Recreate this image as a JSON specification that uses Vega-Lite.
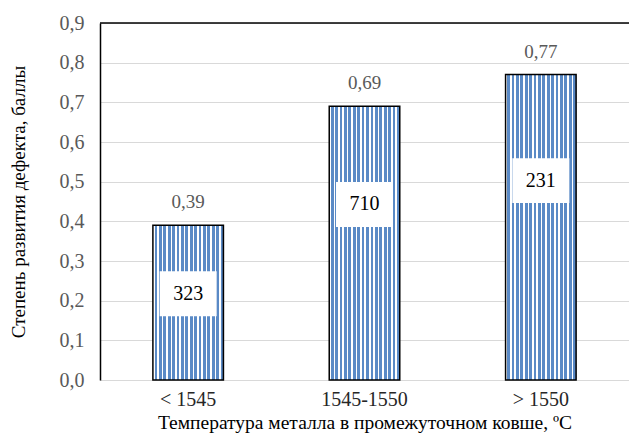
{
  "$schema": "https://vega.github.io/schema/vega-lite/v6.json",
  "width": 529,
  "height": 357,
  "autosize": {"type": "none"},
  "padding": {"left": 100, "top": 23, "right": 0, "bottom": 54},
  "background": "white",
  "config": {
    "view": {"stroke": null},
    "axisX": {
      "titleFont": "Liberation Serif",
      "titleFontSize": 19.5,
      "titleFontWeight": "normal",
      "titleColor": "black",
      "titleY": 48,
      "titleBaseline": "alphabetic",
      "labelAngle": 0,
      "labelFont": "Liberation Serif",
      "labelFontSize": 20,
      "labelColor": "#262626",
      "labelBaseline": "alphabetic",
      "labelPadding": 25,
      "ticks": false,
      "tickSize": 0,
      "domain": false
    },
    "axisY": {
      "titleFont": "Liberation Serif",
      "titleFontSize": 19,
      "titleFontWeight": "normal",
      "titleColor": "black",
      "titleAngle": -90,
      "titleX": -82,
      "titleY": 178.5,
      "titleAlign": "center",
      "titleBaseline": "middle",
      "labelFont": "Liberation Serif",
      "labelFontSize": 20,
      "labelColor": "#595959",
      "labelPadding": 16,
      "labelOverlap": false,
      "ticks": false,
      "tickSize": 0,
      "domain": true,
      "domainColor": "black",
      "domainWidth": 1.5,
      "grid": true,
      "gridColor": "#d9d9d9",
      "gridWidth": 1
    }
  },
  "data": {
    "values": [
      {"t": "< 1545", "v": 0.39, "n": 323},
      {"t": "1545-1550", "v": 0.69, "n": 710},
      {"t": "> 1550", "v": 0.77, "n": 231}
    ]
  },
  "transform": [
    {"calculate": "datum.v * 0.75 - 0.075", "as": "ny"},
    {"calculate": "replace(format(datum.v, '.2f'), '.', ',')", "as": "vl"}
  ],
  "layer": [
    {
      "mark": {
        "type": "bar",
        "stroke": "black",
        "strokeWidth": 1.5,
        "fill": {
          "gradient": "linear",
          "x1": 0, "y1": 0, "x2": 1, "y2": 0,
          "stops": [
            {"offset": 0, "color": "#ffffff"}, {"offset": 0.023, "color": "#ffffff"}, {"offset": 0.023, "color": "#5a8ac6"}, {"offset": 0.0625, "color": "#5a8ac6"},
            {"offset": 0.0625, "color": "#ffffff"}, {"offset": 0.0855, "color": "#ffffff"}, {"offset": 0.0855, "color": "#5a8ac6"}, {"offset": 0.125, "color": "#5a8ac6"},
            {"offset": 0.125, "color": "#ffffff"}, {"offset": 0.148, "color": "#ffffff"}, {"offset": 0.148, "color": "#5a8ac6"}, {"offset": 0.1875, "color": "#5a8ac6"},
            {"offset": 0.1875, "color": "#ffffff"}, {"offset": 0.2105, "color": "#ffffff"}, {"offset": 0.2105, "color": "#5a8ac6"}, {"offset": 0.25, "color": "#5a8ac6"},
            {"offset": 0.25, "color": "#ffffff"}, {"offset": 0.273, "color": "#ffffff"}, {"offset": 0.273, "color": "#5a8ac6"}, {"offset": 0.3125, "color": "#5a8ac6"},
            {"offset": 0.3125, "color": "#ffffff"}, {"offset": 0.3355, "color": "#ffffff"}, {"offset": 0.3355, "color": "#5a8ac6"}, {"offset": 0.375, "color": "#5a8ac6"},
            {"offset": 0.375, "color": "#ffffff"}, {"offset": 0.398, "color": "#ffffff"}, {"offset": 0.398, "color": "#5a8ac6"}, {"offset": 0.4375, "color": "#5a8ac6"},
            {"offset": 0.4375, "color": "#ffffff"}, {"offset": 0.4605, "color": "#ffffff"}, {"offset": 0.4605, "color": "#5a8ac6"}, {"offset": 0.5, "color": "#5a8ac6"},
            {"offset": 0.5, "color": "#ffffff"}, {"offset": 0.523, "color": "#ffffff"}, {"offset": 0.523, "color": "#5a8ac6"}, {"offset": 0.5625, "color": "#5a8ac6"},
            {"offset": 0.5625, "color": "#ffffff"}, {"offset": 0.5855, "color": "#ffffff"}, {"offset": 0.5855, "color": "#5a8ac6"}, {"offset": 0.625, "color": "#5a8ac6"},
            {"offset": 0.625, "color": "#ffffff"}, {"offset": 0.648, "color": "#ffffff"}, {"offset": 0.648, "color": "#5a8ac6"}, {"offset": 0.6875, "color": "#5a8ac6"},
            {"offset": 0.6875, "color": "#ffffff"}, {"offset": 0.7105, "color": "#ffffff"}, {"offset": 0.7105, "color": "#5a8ac6"}, {"offset": 0.75, "color": "#5a8ac6"},
            {"offset": 0.75, "color": "#ffffff"}, {"offset": 0.773, "color": "#ffffff"}, {"offset": 0.773, "color": "#5a8ac6"}, {"offset": 0.8125, "color": "#5a8ac6"},
            {"offset": 0.8125, "color": "#ffffff"}, {"offset": 0.8355, "color": "#ffffff"}, {"offset": 0.8355, "color": "#5a8ac6"}, {"offset": 0.875, "color": "#5a8ac6"},
            {"offset": 0.875, "color": "#ffffff"}, {"offset": 0.898, "color": "#ffffff"}, {"offset": 0.898, "color": "#5a8ac6"}, {"offset": 0.9375, "color": "#5a8ac6"},
            {"offset": 0.9375, "color": "#ffffff"}, {"offset": 0.9605, "color": "#ffffff"}, {"offset": 0.9605, "color": "#5a8ac6"}, {"offset": 1, "color": "#5a8ac6"}
          ]
        }
      },
      "encoding": {
        "x": {"field": "t", "type": "nominal", "sort": null, "scale": {"paddingInner": 0.6, "paddingOuter": 0.3}, "axis": {"title": "Температура металла в промежуточном ковше, ºС"}},
        "y": {"field": "v", "type": "quantitative", "scale": {"domain": [0, 0.9], "nice": false}, "axis": {"title": "Степень развития дефекта, баллы", "values": [0, 0.1, 0.2, 0.3, 0.4, 0.5, 0.6, 0.7, 0.8, 0.9], "labelExpr": "replace(format(datum.value, '.1f'), '.', ',')"}}
      }
    },
    {
      "mark": {"type": "text", "font": "Liberation Serif", "fontSize": 19, "color": "#595959", "baseline": "middle", "dy": -23},
      "encoding": {
        "x": {"field": "t", "type": "nominal", "sort": null, "scale": {"paddingInner": 0.6, "paddingOuter": 0.3}, "axis": {"title": "Температура металла в промежуточном ковше, ºС"}},
        "y": {"field": "v", "type": "quantitative", "scale": {"domain": [0, 0.9], "nice": false}, "axis": {"title": "Степень развития дефекта, баллы", "values": [0, 0.1, 0.2, 0.3, 0.4, 0.5, 0.6, 0.7, 0.8, 0.9], "labelExpr": "replace(format(datum.value, '.1f'), '.', ',')"}},
        "text": {"field": "vl", "type": "nominal"}
      }
    },
    {
      "mark": {"type": "point", "shape": "M-1,-0.786H1V0.786H-1Z", "size": 3249, "filled": true, "fill": "white", "opacity": 1, "strokeWidth": 0},
      "encoding": {
        "x": {"field": "t", "type": "nominal", "sort": null, "scale": {"paddingInner": 0.6, "paddingOuter": 0.3}, "axis": {"title": "Температура металла в промежуточном ковше, ºС"}},
        "y": {"field": "ny", "type": "quantitative", "scale": {"domain": [0, 0.9], "nice": false}, "axis": {"title": "Степень развития дефекта, баллы", "values": [0, 0.1, 0.2, 0.3, 0.4, 0.5, 0.6, 0.7, 0.8, 0.9], "labelExpr": "replace(format(datum.value, '.1f'), '.', ',')"}}
      }
    },
    {
      "mark": {"type": "text", "font": "Liberation Serif", "fontSize": 20, "color": "black", "baseline": "middle"},
      "encoding": {
        "x": {"field": "t", "type": "nominal", "sort": null, "scale": {"paddingInner": 0.6, "paddingOuter": 0.3}, "axis": {"title": "Температура металла в промежуточном ковше, ºС"}},
        "y": {"field": "ny", "type": "quantitative", "scale": {"domain": [0, 0.9], "nice": false}, "axis": {"title": "Степень развития дефекта, баллы", "values": [0, 0.1, 0.2, 0.3, 0.4, 0.5, 0.6, 0.7, 0.8, 0.9], "labelExpr": "replace(format(datum.value, '.1f'), '.', ',')"}},
        "text": {"field": "n", "type": "quantitative"}
      }
    },
    {
      "data": {"values": [{"top": 0.9}]},
      "mark": {"type": "rule", "color": "black", "strokeWidth": 1.5},
      "encoding": {
        "y": {"field": "top", "type": "quantitative", "scale": {"domain": [0, 0.9], "nice": false}, "axis": {"title": "Степень развития дефекта, баллы", "values": [0, 0.1, 0.2, 0.3, 0.4, 0.5, 0.6, 0.7, 0.8, 0.9], "labelExpr": "replace(format(datum.value, '.1f'), '.', ',')"}}
      }
    }
  ]
}
